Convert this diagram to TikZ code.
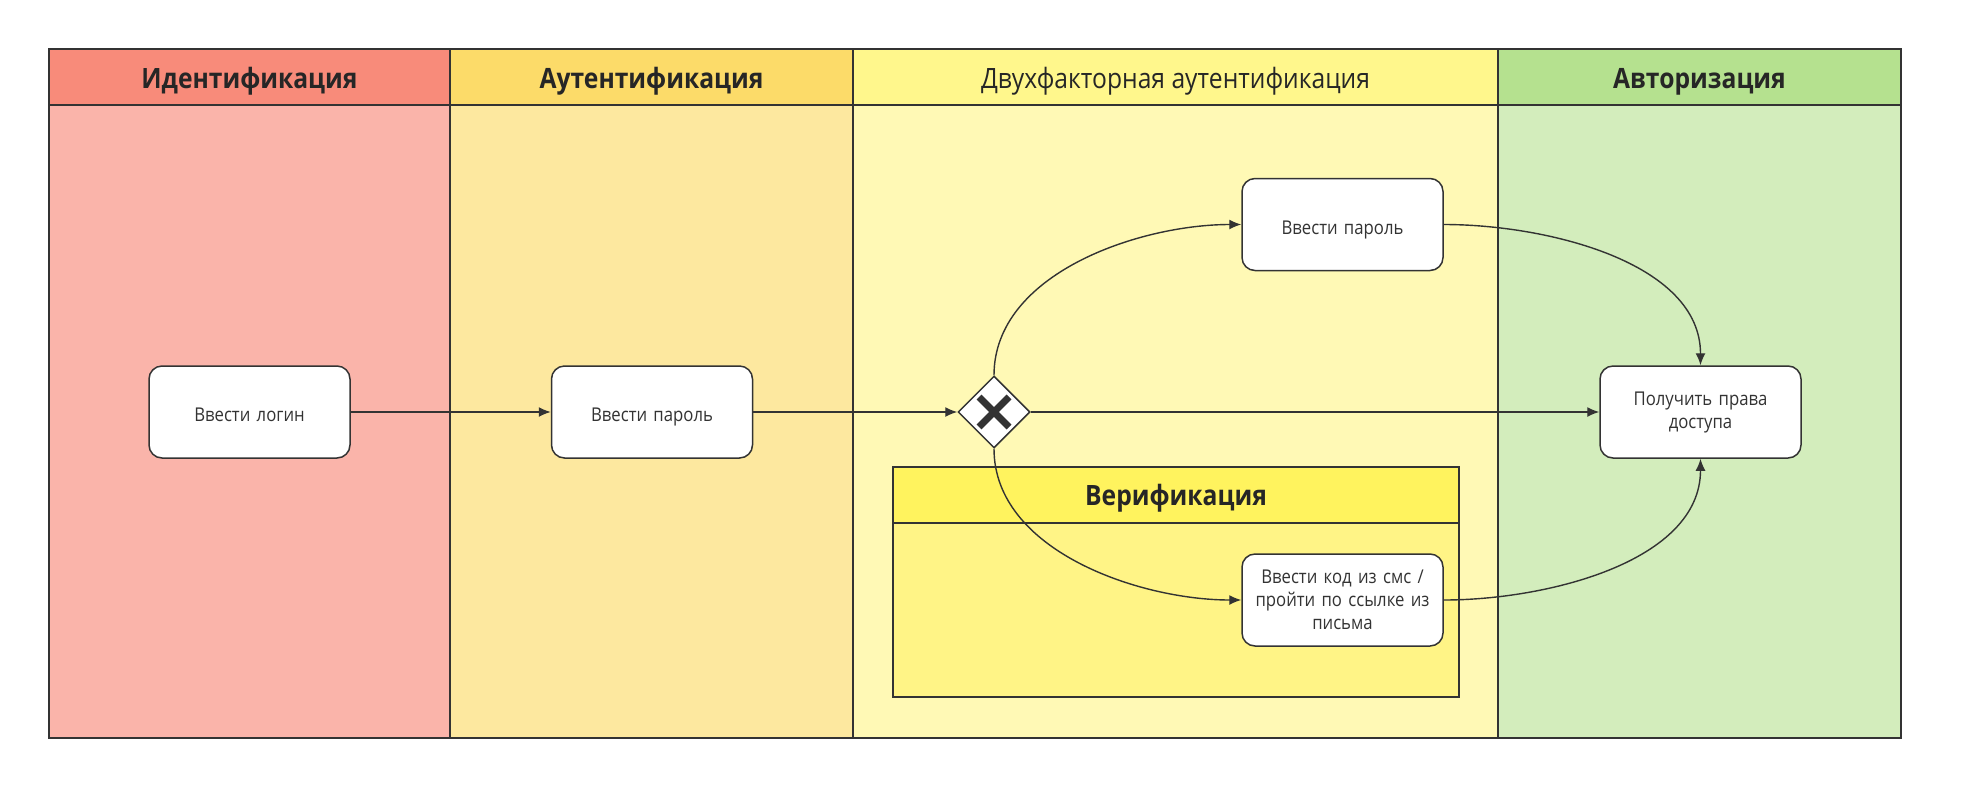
\documentclass[tikz,border=0pt]{standalone}
\usepackage{fontspec}
\setmainfont{Open Sans}[FakeStretch=0.88]
\usetikzlibrary{arrows.meta,shapes.geometric,calc}
\definecolor{hA}{HTML}{F88B7A}
\definecolor{bA}{HTML}{FAB4AA}
\definecolor{hB}{HTML}{FCDB69}
\definecolor{bB}{HTML}{FDE89F}
\definecolor{hC}{HTML}{FFF78C}
\definecolor{bC}{HTML}{FFF9B5}
\definecolor{hD}{HTML}{B5E18F}
\definecolor{bD}{HTML}{D3EDBC}
\definecolor{hV}{HTML}{FFF35E}
\definecolor{bV}{HTML}{FFF486}
\definecolor{ln}{HTML}{333333}
\begin{document}
\begin{tikzpicture}[x=1pt,y=-1pt,
  frame/.style={draw=ln,line width=2pt},
  task/.style={draw=ln,line width=1.5pt,fill=white,rounded corners=13pt,
    minimum width=201pt,minimum height=92pt,align=center,text width=185pt,
    font=\fontsize{19}{23}\selectfont,text=ln},
  oneline/.style={text height=19pt,text depth=0pt},
  lanehead/.style={anchor=base,font=\fontsize{28}{32}\selectfont\bfseries,text=black!85},
  flow/.style={draw=ln,line width=1.4pt,-{Latex[length=12pt,width=10pt]}},
  gate/.style={diamond,draw=ln,line width=1.5pt,fill=white,minimum width=72pt,minimum height=72pt,inner sep=0pt}
]
\useasboundingbox (0,0) rectangle (1961,796);
% lanes
\fill[bA] (49,105) rectangle (450,738);
\fill[bB] (450,105) rectangle (853,738);
\fill[bC] (853,105) rectangle (1498,738);
\fill[bD] (1498,105) rectangle (1901,738);
\fill[hA] (49,49) rectangle (450,105);
\fill[hB] (450,49) rectangle (853,105);
\fill[hC] (853,49) rectangle (1498,105);
\fill[hD] (1498,49) rectangle (1901,105);
\draw[frame] (49,49) rectangle (1901,738);
\draw[frame] (49,105) -- (1901,105);
\draw[frame] (450,49) -- (450,738);
\draw[frame] (853,49) -- (853,738);
\draw[frame] (1498,49) -- (1498,738);
\node[lanehead] (t1) at (249.5,88.5) {Идентификация};
\node[lanehead] (t2) at (651.5,88.5) {Аутентификация};
\node[anchor=base,font=\fontsize{28}{32}\selectfont,text=black!85] (t3) at (1175.5,88.5) {Двухфакторная аутентификация};
\node[lanehead] (t4) at (1699.5,88.5) {Авторизация};
% verification box
\fill[bV] (893,523) rectangle (1459,697);
\fill[hV] (893,467) rectangle (1459,523);
\draw[ln,line width=1.8pt] (893,467) rectangle (1459,697);
\draw[ln,line width=1.5pt] (893,523) -- (1459,523);
\node[lanehead] (tv) at (1176,505.5) {Верификация};
% tasks
\node[task,oneline] (login) at (249.5,412) {Ввести логин};
\node[task,oneline] (pass1) at (652,412) {Ввести пароль};
\node[gate] (gw) at (994,412) {};
\draw[ln,line width=7pt] ($(gw.center)+(-15,-15)$) -- ($(gw.center)+(15,15)$);
\draw[ln,line width=7pt] ($(gw.center)+(15,-15)$) -- ($(gw.center)+(-15,15)$);
\node[task,oneline] (pass2) at (1342.5,224.5) {Ввести пароль};
\node[task] (code) at (1342.5,600) {Ввести код из смс /\\пройти по ссылке из\\письма};
\node[task] (auth) at (1700.5,412) {Получить права\\доступа};
% flows
\draw[flow] (login) -- (pass1);
\draw[flow] (pass1) -- (gw.west);
\draw[flow] (gw.east) -- (auth);
\draw[flow] (gw.north) to[out=90,in=180,looseness=0.9] (pass2.west);
\draw[flow] (gw.south) to[out=-90,in=180,looseness=0.9] (code.west);
\draw[flow] (pass2.east) to[out=0,in=90,looseness=0.9] (auth.north);
\draw[flow] (code.east) to[out=0,in=-90,looseness=0.9] (auth.south);
\end{tikzpicture}
\end{document}
